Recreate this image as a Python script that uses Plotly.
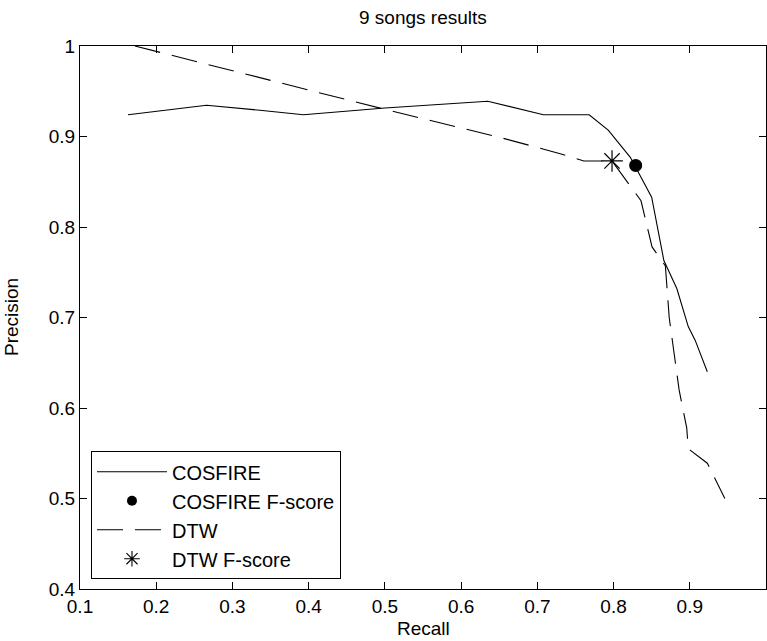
import plotly.graph_objects as go

# ---- data ----
cosfire_recall = [0.163, 0.266, 0.336, 0.393, 0.50, 0.62, 0.635, 0.708, 0.768, 0.793, 0.822, 0.850, 0.866, 0.883, 0.898, 0.907, 0.923]
cosfire_precision = [0.924, 0.9345, 0.929, 0.924, 0.9315, 0.938, 0.939, 0.924, 0.924, 0.907, 0.877, 0.833, 0.763, 0.732, 0.690, 0.675, 0.640]

dtw_recall = [0.172, 0.50, 0.651, 0.73, 0.761, 0.798, 0.836, 0.8505, 0.868, 0.873, 0.886, 0.896, 0.898, 0.923, 0.946]
dtw_precision = [1.0, 0.930, 0.899, 0.881, 0.873, 0.873, 0.829, 0.778, 0.757, 0.700, 0.620, 0.578, 0.555, 0.539, 0.500]

cosfire_f_recall = [0.829]
cosfire_f_precision = [0.868]
dtw_f_recall = [0.798]
dtw_f_precision = [0.873]

x_ticks = [0.1, 0.2, 0.3, 0.4, 0.5, 0.6, 0.7, 0.8, 0.9, 1.0]
x_tick_labels = ["0.1", "0.2", "0.3", "0.4", "0.5", "0.6", "0.7", "0.8", "0.9", "1"]
y_ticks = [0.4, 0.5, 0.6, 0.7, 0.8, 0.9, 1.0]
y_tick_labels = ["0.4", "0.5", "0.6", "0.7", "0.8", "0.9", "1"]

FONT = "Liberation Sans, Arial, sans-serif"
W, H = 767, 641
L, R, T, B = 80, 1, 46, 52
PH = H - T - B

fig = go.Figure()
# data traces
fig.add_trace(go.Scatter(x=cosfire_recall, y=cosfire_precision, mode="lines",
                         name="COSFIRE", legendrank=1,
                         line=dict(color="black", width=1.1)))
fig.add_trace(go.Scatter(x=cosfire_f_recall, y=cosfire_f_precision, mode="markers",
                         name="COSFIRE F-score", showlegend=False,
                         marker=dict(symbol="circle", size=13, color="black")))
fig.add_trace(go.Scatter(x=dtw_recall, y=dtw_precision, mode="lines",
                         name="DTW", legendrank=3,
                         line=dict(color="black", width=1.1, dash="26px,12px")))
fig.add_trace(go.Scatter(x=dtw_f_recall, y=dtw_f_precision, mode="markers",
                         name="DTW F-score", showlegend=False,
                         marker=dict(symbol="asterisk-open", size=18, color="black",
                                     line=dict(color="black", width=1.2))))
# legend-only entries for the markers (smaller symbols, as in the reference legend)
fig.add_trace(go.Scatter(x=[None], y=[None], mode="markers", name="COSFIRE F-score",
                         legendrank=2, hoverinfo="skip",
                         marker=dict(symbol="circle", size=10, color="black")))
fig.add_trace(go.Scatter(x=[None], y=[None], mode="markers", name="DTW F-score",
                         legendrank=4, hoverinfo="skip",
                         marker=dict(symbol="asterisk-open", size=13, color="black",
                                     line=dict(color="black", width=1.1))))

axis_common = dict(showline=True, linecolor="black", linewidth=1, mirror="ticks",
                   ticks="inside", ticklen=7, tickcolor="black", tickwidth=1,
                   showgrid=False, zeroline=False, automargin=False,
                   tickfont=dict(family=FONT, size=19, color="black"))

txt_font = dict(family=FONT, size=19, color="black")

fig.update_layout(
    width=W, height=H,
    margin=dict(l=L, r=R, t=T, b=B, autoexpand=False),
    paper_bgcolor="white", plot_bgcolor="white",
    xaxis=dict(range=[0.1, 1.0], tickvals=x_ticks, ticktext=x_tick_labels, **axis_common),
    yaxis=dict(range=[0.4, 1.0], tickvals=y_ticks, ticktext=y_tick_labels, **axis_common),
    legend=dict(x=0.016, y=0.018, xanchor="left", yanchor="bottom",
                bgcolor="white", bordercolor="black", borderwidth=1,
                font=dict(family=FONT, size=20, color="black"),
                itemwidth=70, tracegroupgap=0, traceorder="normal"),
    showlegend=True,
    annotations=[
        dict(text="9 songs results", xref="paper", yref="paper", x=0.5,
             y=1 + (T - 18) / PH, xanchor="center", yanchor="middle",
             showarrow=False, font=txt_font),
        dict(text="Recall", xref="paper", yref="paper", x=0.5,
             y=-(628 - (H - B)) / PH, xanchor="center", yanchor="middle",
             showarrow=False, font=txt_font),
        dict(text="Precision", xref="paper", yref="paper", x=-(L - 12) / (W - L - R),
             y=0.5 - (317 - (T + PH / 2)) / PH, xanchor="center", yanchor="middle",
             textangle=-90, showarrow=False, font=txt_font),
    ],
)

fig.write_html("out.html", config={"displayModeBar": False},
               post_script="document.body.style.margin='0';document.body.style.overflow='hidden';")
